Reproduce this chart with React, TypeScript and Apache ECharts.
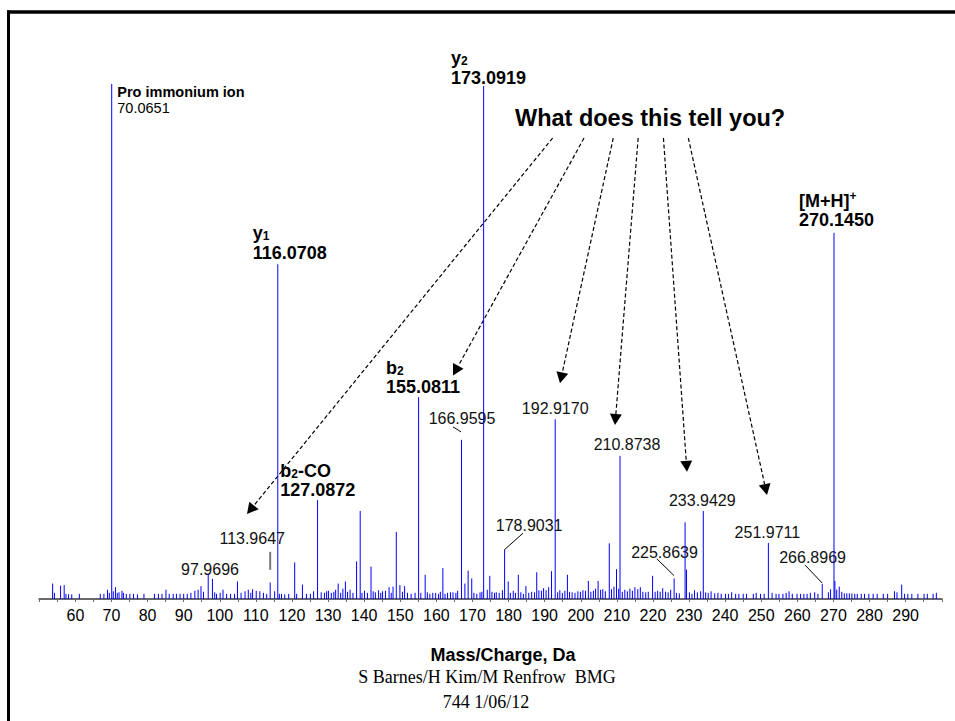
import React, { useEffect, useRef } from "react";
import * as echarts from "echarts";

const SANS = "'Liberation Sans', Arial, Helvetica, sans-serif";
const SERIF = "'Liberation Serif', 'Times New Roman', serif";

// Named fragment ions (m/z, relative intensity %)
const ionMz = [70.0651, 116.0708, 127.0872, 155.0811, 173.0919, 270.145];
const ionIntensity = [100, 65.0, 19.2, 39.2, 99.6, 71.1];
const ionNames = ["Pro immonium ion", "{b|y}{s|1}", "{b|b}{s|2}{b|-CO}", "{b|b}{s|2}", "{b|y}{s|2}", "{b|[M+H]}{p|+}"];

// Other peaks that carry an m/z label
const markedMz = [97.9696, 113.9647, 166.9595, 178.9031, 192.917, 210.8738, 225.8639, 233.9429, 251.9711, 266.8969];
const markedIntensity = [3.9, 3.2, 30.9, 9.5, 34.9, 27.8, 4.0, 17.1, 10.9, 2.9];

// Unlabelled peaks and noise floor [m/z, relative intensity %]
const minorPeaks: [number, number][] = [
  [53.7, 3.0], [54.2, 1.2], [55.9, 2.6], [56.9, 2.7], [57.4, 1.0], [58.1, 0.9], [59.0, 0.9], [61.1, 1.0],
  [66.9, 1.0], [67.9, 1.0], [68.9, 1.8], [69.4, 1.2], [70.5, 1.5], [71.1, 2.3], [71.6, 1.2], [72.1, 1.3],
  [72.9, 1.6], [73.3, 1.2], [74.1, 1.0], [75.1, 1.0], [76.1, 1.0], [77.2, 0.9], [79.0, 1.0], [81.9, 1.0],
  [83.0, 1.0], [84.0, 1.0], [85.1, 1.8], [86.0, 1.0], [87.1, 1.0], [88.0, 1.0], [89.0, 1.0], [90.0, 1.0],
  [91.0, 1.0], [92.0, 1.2], [93.1, 1.6], [94.0, 1.8], [94.8, 2.5], [95.5, 1.4], [96.8, 4.9], [98.6, 1.3],
  [99.1, 1.0], [100.1, 1.2], [100.9, 1.8], [101.9, 1.0], [103.0, 1.0], [104.1, 1.0], [104.9, 3.4], [105.9, 1.2],
  [107.0, 1.5], [107.9, 1.8], [108.6, 1.2], [109.1, 1.9], [110.1, 1.6], [111.1, 1.5], [112.1, 1.2], [113.0, 1.0],
  [115.2, 1.5], [116.5, 1.0], [117.1, 1.0], [118.0, 0.9], [119.1, 1.0], [120.75, 7.1], [121.3, 1.0], [122.9, 2.8],
  [124.0, 1.0], [125.1, 1.0], [126.0, 1.5], [128.1, 1.3], [129.0, 1.2], [129.6, 1.5], [130.1, 1.6], [130.9, 1.2],
  [131.6, 1.4], [132.1, 1.8], [132.8, 3.0], [133.5, 1.2], [134.1, 2.0], [134.8, 3.4], [135.4, 1.4], [136.1, 1.8],
  [136.9, 1.2], [137.9, 7.3], [138.9, 17.1], [139.4, 1.2], [140.1, 1.6], [140.9, 1.2], [141.9, 6.3], [142.5, 1.5],
  [143.1, 1.3], [144.0, 1.7], [144.6, 1.2], [145.1, 1.5], [145.9, 1.6], [146.9, 2.3], [147.5, 1.2], [148.0, 2.4],
  [148.9, 13.0], [149.9, 2.7], [150.6, 1.4], [151.2, 2.5], [152.0, 1.2], [153.0, 1.0], [154.1, 1.2], [155.7, 1.2],
  [156.9, 4.7], [157.5, 1.3], [158.2, 1.0], [159.0, 1.2], [159.8, 1.2], [160.6, 1.0], [161.1, 1.4], [161.8, 6.0],
  [162.4, 1.0], [163.1, 1.2], [163.9, 1.3], [164.6, 1.3], [165.4, 1.2], [165.9, 1.6], [167.9, 3.0], [168.8, 5.5],
  [169.8, 4.0], [170.4, 1.2], [171.2, 1.0], [172.1, 1.3], [172.6, 1.4], [174.1, 1.8], [174.8, 4.5], [175.4, 1.4],
  [176.1, 1.2], [176.6, 1.3], [177.4, 1.2], [178.3, 1.7], [179.9, 3.4], [180.5, 1.2], [181.3, 1.6], [181.9, 1.2],
  [182.7, 4.7], [183.4, 1.3], [184.1, 1.0], [184.8, 2.5], [185.6, 1.2], [186.4, 1.4], [187.2, 1.3], [187.8, 5.2],
  [188.4, 1.7], [189.1, 1.6], [189.7, 2.1], [190.4, 1.7], [191.1, 2.3], [191.9, 5.4], [193.6, 1.3], [194.2, 1.7],
  [194.9, 1.2], [195.6, 1.6], [196.3, 4.7], [196.9, 1.4], [197.6, 1.3], [198.4, 1.2], [199.2, 1.5], [199.9, 1.4],
  [200.6, 1.7], [201.3, 1.6], [202.1, 3.5], [202.8, 1.4], [203.5, 1.6], [204.1, 2.0], [204.8, 3.5], [205.5, 1.8],
  [206.1, 1.9], [206.8, 1.5], [207.9, 10.8], [208.5, 1.9], [209.2, 2.4], [209.9, 5.8], [210.5, 2.0], [211.5, 1.4],
  [212.2, 1.8], [212.9, 1.5], [213.6, 2.0], [214.3, 1.6], [215.0, 2.3], [215.8, 1.9], [216.5, 2.3], [217.2, 1.4],
  [218.0, 1.3], [218.7, 1.4], [219.9, 4.5], [220.6, 1.4], [221.3, 1.6], [222.0, 1.4], [222.7, 2.1], [223.5, 1.4],
  [224.2, 1.3], [224.9, 1.8], [226.5, 1.2], [227.3, 1.1], [228.9, 14.9], [229.3, 5.7], [230.1, 1.3], [230.8, 1.0],
  [231.5, 1.7], [232.3, 1.3], [233.2, 1.5], [234.6, 1.3], [235.3, 1.2], [236.1, 1.5], [237.1, 1.1], [238.0, 1.2],
  [238.9, 1.0], [240.1, 1.0], [240.9, 1.0], [241.8, 1.3], [242.9, 1.0], [243.8, 1.0], [245.0, 1.0], [245.9, 1.0],
  [247.8, 1.0], [248.6, 1.2], [249.8, 1.0], [250.8, 1.0], [253.0, 1.2], [254.1, 1.0], [254.9, 1.0], [256.0, 1.0],
  [256.9, 1.2], [257.7, 1.5], [258.6, 1.0], [259.9, 1.0], [260.9, 1.0], [261.8, 1.0], [262.7, 1.0], [263.6, 1.2],
  [264.8, 1.3], [265.7, 1.0], [268.6, 1.3], [269.2, 1.9], [270.4, 3.5], [270.9, 1.8], [271.6, 2.4], [272.3, 1.4],
  [273.0, 1.1], [273.7, 1.1], [274.4, 1.1], [275.1, 1.1], [275.9, 1.0], [276.6, 1.0], [277.7, 1.0], [278.6, 1.0],
  [279.8, 1.0], [281.0, 1.0], [282.1, 1.0], [283.8, 1.0], [285.0, 1.0], [286.9, 1.5], [287.6, 1.3], [288.9, 2.8],
  [289.7, 1.0], [290.6, 1.0], [291.7, 1.0], [293.4, 1.0], [295.1, 1.0], [296.0, 1.0], [297.6, 1.0], [298.5, 1.2],
];

// Label placement for the named ions: [left offset, value-line offset from peak top, name offset from value line]
const ionLayout: [number, number, number][] = [
  [5.6, 24, -16], [-25, -11, -21], [-37.3, -10, -20], [-32.6, -10, -20], [-32.6, -7.7, -21], [-35, -12.5, -20],
];
// Label placement for m/z-labelled peaks: [dx, dy] of text centre from peak top, optional leader [x1,y1,x2,y2]
const markedLayout: { d: [number, number]; leader?: [number, number, number, number]; grey?: boolean }[] = [
  { d: [-2.4, -9.5] },
  { d: [-18, -43.7], leader: [0, -30.7, 0, -12.7], grey: true },
  { d: [0.5, -21], leader: [-8.5, -13, -0.5, -8] },
  { d: [24.5, -25], leader: [18.5, -17, -0.5, 0] },
  { d: [0, -11] },
  { d: [7, -11] },
  { d: [-9.6, -26], leader: [-17.4, -19.7, 0, -2.7] },
  { d: [-1, -10.7] },
  { d: [-1, -10] },
  { d: [-9.7, -26.3], leader: [-17.2, -19, 0, -1] },
];

// Question and its arrows, in data coordinates
const question = "What does this tell you?";
const questionAnchor: [number, number] = [219.2, 93.4];
const arrowFrom: [number, number][] = [[192.2, 89.5], [200.9, 89.5], [209.0, 89.5], [215.9, 89.5], [222.9, 89.5], [229.8, 89.5]];
const arrowTo: [number, number][] = [[107.55, 16.5], [164.6, 43.4], [194.25, 41.9], [209.48, 33.8], [229.43, 24.7], [251.59, 20.2]];

const axisTitle = "Mass/Charge, Da";
const credits = ["S Barnes/H Kim/M Renfrow\u00a0\u00a0BMG", "744 1/06/12"];

export default function App() {
  const ref = useRef<HTMLDivElement>(null);

  useEffect(() => {
    const el = ref.current;
    if (!el) return;
    const chart = echarts.init(el, null, { renderer: "svg" });

    const peaks: number[][] = [
      ...ionMz.map((m, i) => [m, ionIntensity[i]]),
      ...markedMz.map((m, i) => [m, markedIntensity[i]]),
      ...minorPeaks.map((p) => [p[0], p[1]]),
    ];

    chart.setOption({
      animation: false,
      backgroundColor: "#ffffff",
      grid: { left: 39.27, right: 13.24, top: 84, bottom: 122 },
      xAxis: {
        type: "value",
        min: 50,
        max: 300,
        interval: 10,
        splitLine: { show: false },
        axisLine: { show: true, lineStyle: { color: "#6a6a6a", width: 2 } },
        axisTick: { show: true, length: 3, lineStyle: { color: "#6a6a6a", width: 1 } },
        minorTick: { show: true, splitNumber: 2, length: 3, lineStyle: { color: "#6a6a6a", width: 1 } },
        axisLabel: {
          showMinLabel: false,
          showMaxLabel: false,
          fontFamily: SANS,
          fontSize: 16,
          color: "#000",
          margin: 8,
        },
      },
      yAxis: { type: "value", min: 0, max: 100, show: false },
      series: [
        {
          type: "custom",
          data: peaks,
          renderItem: (_params: any, api: any) => {
            const x = api.value(0);
            const y = api.value(1);
            const top = api.coord([x, y]);
            const base = api.coord([x, 0]);
            return {
              type: "line",
              shape: { x1: top[0], y1: top[1], x2: base[0], y2: base[1] },
              style: { stroke: "#0000ff", lineWidth: 1 },
            };
          },
        },
      ],
    });

    const px = (m: number, v: number) => chart.convertToPixel({ gridIndex: 0 }, [m, v]) as number[];
    const g: any[] = [];

    // frame
    g.push({ type: "line", shape: { x1: 7, y1: 12, x2: 955, y2: 12 }, style: { stroke: "#000", lineWidth: 3.5 } });
    g.push({ type: "line", shape: { x1: 8.5, y1: 10.5, x2: 8.5, y2: 721 }, style: { stroke: "#000", lineWidth: 3 } });

    const rich = {
      b: { fontSize: 18, fontWeight: "bold", fontFamily: SANS, fill: "#000", lineHeight: 20, verticalAlign: "bottom" },
      s: { fontSize: 12, fontWeight: "bold", fontFamily: SANS, fill: "#000", lineHeight: 10, verticalAlign: "bottom" },
      p: { fontSize: 12, fontWeight: "bold", fontFamily: SANS, fill: "#000", lineHeight: 12, verticalAlign: "top" },
    };

    ionMz.forEach((m, i) => {
      const [x, y] = px(m, ionIntensity[i]);
      const [dx, dy, ny] = ionLayout[i];
      const first = i === 0;
      g.push({
        type: "text",
        x: x + dx,
        y: y + dy,
        style: {
          text: m.toFixed(4),
          fontFamily: SANS,
          fontSize: first ? 14.5 : 18,
          fontWeight: first ? "normal" : "bold",
          fill: "#000",
          align: "left",
          verticalAlign: "middle",
        },
      });
      g.push({
        type: "text",
        x: x + dx,
        y: y + dy + ny,
        style: first
          ? { text: ionNames[i], fontFamily: SANS, fontSize: 14.5, fontWeight: "bold", fill: "#000", align: "left", verticalAlign: "middle" }
          : { text: ionNames[i], rich, fontFamily: SANS, fontSize: 18, fontWeight: "bold", fill: "#000", align: "left", verticalAlign: "middle" },
      });
    });

    markedMz.forEach((m, i) => {
      const [x, y] = px(m, markedIntensity[i]);
      const lay = markedLayout[i];
      g.push({
        type: "text",
        x: x + lay.d[0],
        y: y + lay.d[1],
        style: { text: m.toFixed(4), fontFamily: SANS, fontSize: 16, fill: "#111", align: "center", verticalAlign: "middle" },
      });
      if (lay.leader) {
        const [a, b, c, d] = lay.leader;
        g.push({
          type: "line",
          shape: { x1: x + a, y1: y + b, x2: x + c, y2: y + d },
          style: { stroke: lay.grey ? "#777" : "#000", lineWidth: lay.grey ? 2 : 1 },
        });
      }
    });

    const [qx, qy] = px(questionAnchor[0], questionAnchor[1]);
    g.push({
      type: "text",
      x: qx,
      y: qy,
      style: { text: question, fontFamily: SANS, fontSize: 23.5, fontWeight: "bold", fill: "#000", align: "center", verticalAlign: "middle" },
    });

    arrowFrom.forEach((f, i) => {
      const [x1, y1] = px(f[0], f[1]);
      const [x2, y2] = px(arrowTo[i][0], arrowTo[i][1]);
      const len = Math.hypot(x2 - x1, y2 - y1);
      const ux = (x2 - x1) / len;
      const uy = (y2 - y1) / len;
      const L = 11;
      const W = 6;
      const bx = x2 - ux * L;
      const by = y2 - uy * L;
      g.push({
        type: "line",
        shape: { x1, y1, x2: bx, y2: by },
        style: { stroke: "#000", lineWidth: 1.2, lineDash: [4, 2.5] },
      });
      g.push({
        type: "polygon",
        shape: { points: [[x2, y2], [bx - uy * W, by + ux * W], [bx + uy * W, by - ux * W]] },
        style: { fill: "#000" },
      });
    });

    g.push({
      type: "text",
      x: 503,
      y: 655,
      style: { text: axisTitle, fontFamily: SANS, fontSize: 18, fontWeight: "bold", fill: "#000", align: "center", verticalAlign: "middle" },
    });
    g.push({
      type: "text",
      x: 487,
      y: 677,
      style: { text: credits[0], fontFamily: SERIF, fontSize: 18, fill: "#000", align: "center", verticalAlign: "middle" },
    });
    g.push({
      type: "text",
      x: 486,
      y: 702,
      style: { text: credits[1], fontFamily: SERIF, fontSize: 18, fill: "#000", align: "center", verticalAlign: "middle" },
    });

    chart.setOption({ graphic: { elements: g } });

    return () => chart.dispose();
  }, []);

  return <div ref={ref} style={{ position: "fixed", left: 0, top: 0, width: 955, height: 721, background: "#fff" }} />;
}
